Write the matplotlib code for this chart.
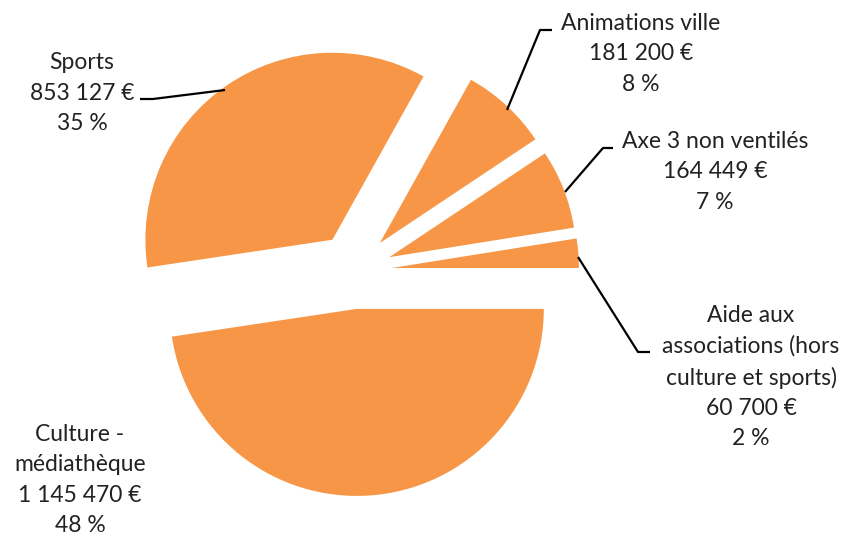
import matplotlib
matplotlib.use("Agg")
import matplotlib.pyplot as plt

# Budget breakdown (euros), listed counter-clockwise starting from 3 o'clock
categories = [
    "Aide aux\nassociations (hors\nculture et sports)",
    "Axe 3 non ventilés",
    "Animations ville",
    "Sports",
    "Culture -\nmédiathèque",
]
amounts = [60700, 164449, 181200, 853127, 1145470]
amount_labels = ["60 700 €", "164 449 €", "181 200 €", "853 127 €", "1 145 470 €"]
pct_labels = ["2 %", "7 %", "8 %", "35 %", "48 %"]

W, H = 848, 536
fig = plt.figure(figsize=(W / 100, H / 100), dpi=100)
ax = fig.add_axes([0, 0, 1, 1])

orange = "#F79646"
center = (354, 271)
radius = 187
gap = 38

# y axis runs downward (pixel-like layout), so clockwise in data = counter-clockwise on screen
ax.pie(amounts, explode=[gap] * len(amounts), radius=radius, center=center,
       startangle=0, counterclock=False, colors=[orange] * len(amounts),
       wedgeprops=dict(linewidth=0))

ax.set_xlim(0, W)
ax.set_ylim(H, 0)
ax.set_aspect("equal")
ax.axis("off")

font = dict(family=["Lato", "DejaVu Sans"], fontsize=16.5, color="#222222",
            ha="center", va="center", linespacing=1.55)

label_pos = [(751, 377), (715, 172), (641, 54), (82, 93), (80, 480)]
for cat, amt, pct, (x, y) in zip(categories, amount_labels, pct_labels, label_pos):
    ax.text(x, y, f"{cat}\n{amt}\n{pct}", **font)

# leader lines from labels to slices
leaders = [
    [(578, 257), (638, 352), (650, 352)],
    [(613, 148), (603, 148), (565, 192)],
    [(552, 30), (540, 30), (507, 110)],
    [(140, 99), (153, 99), (225, 90)],
]
for pts in leaders:
    xs, ys = zip(*pts)
    ax.plot(xs, ys, color="black", linewidth=1.6, solid_capstyle="butt")

fig.savefig("out.png", dpi=100)
